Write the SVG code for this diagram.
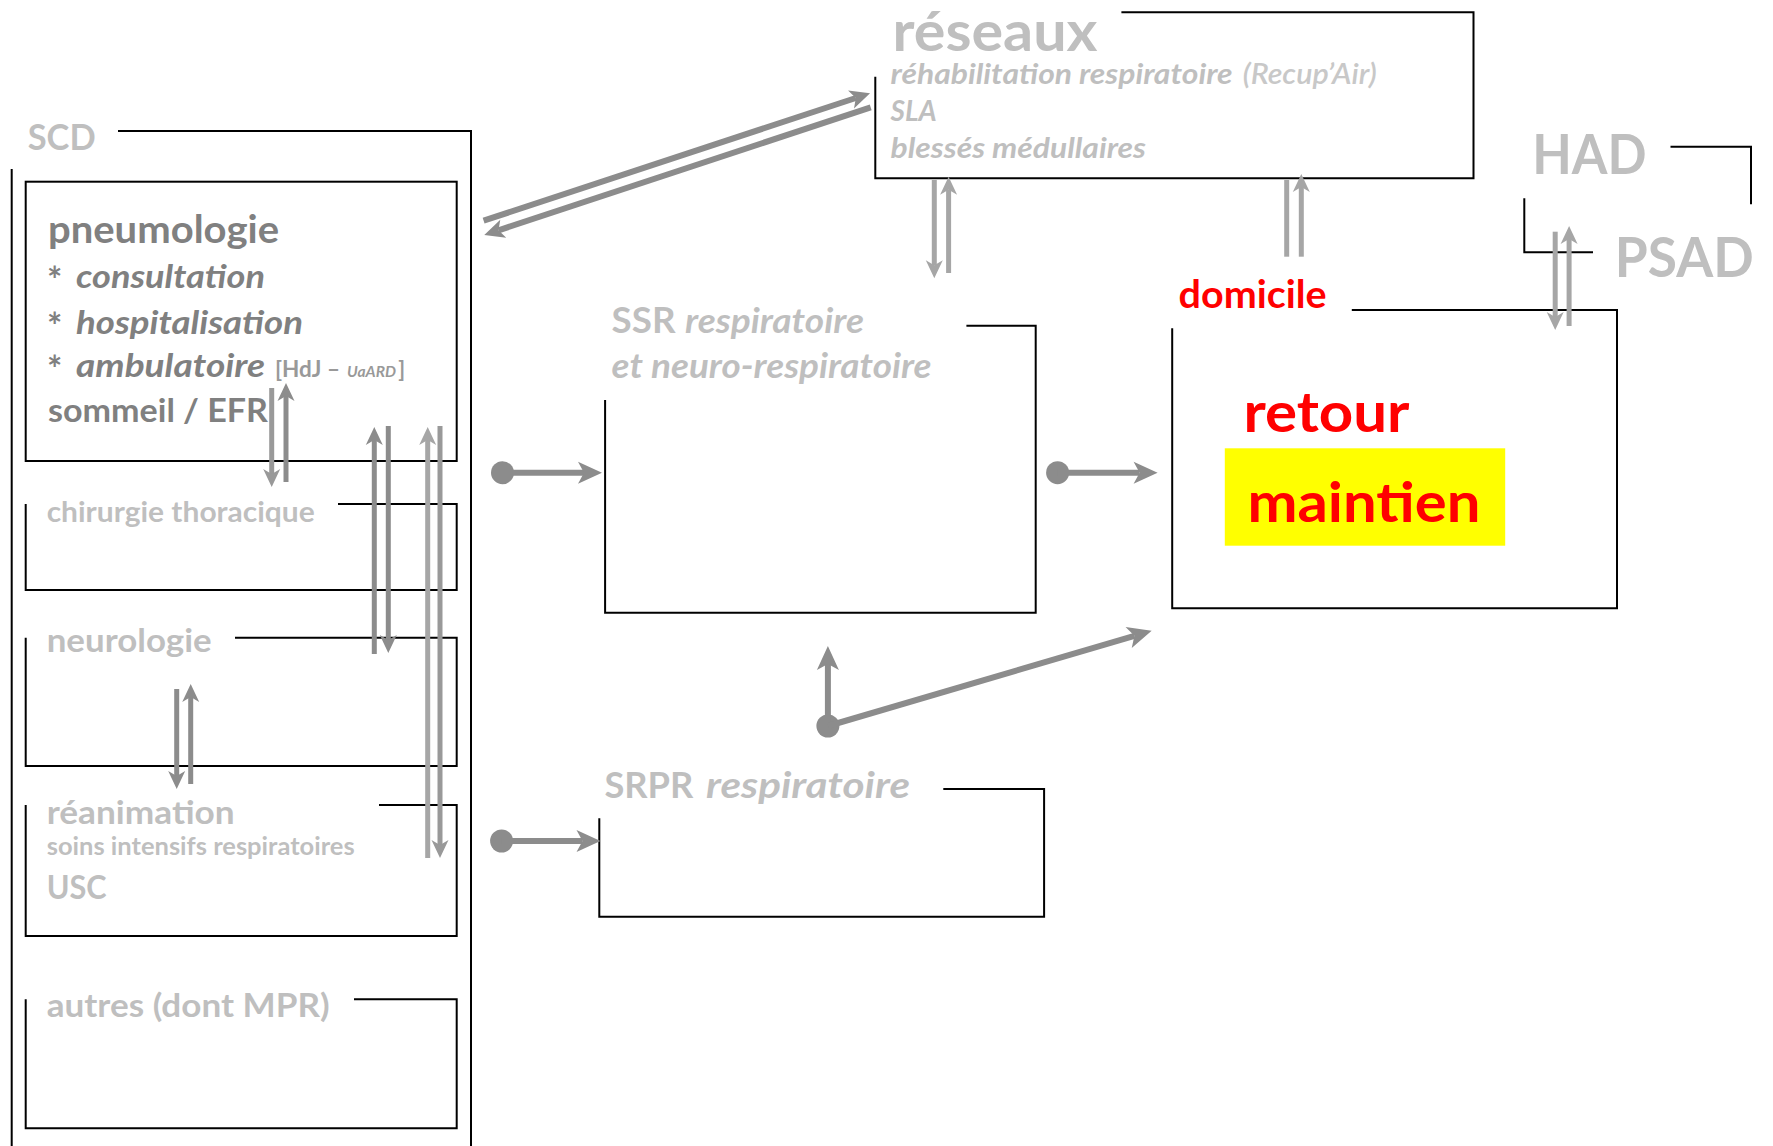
<svg xmlns="http://www.w3.org/2000/svg" width="1773" height="1146" viewBox="0 0 1773 1146">
<style>
.frame{fill:none;stroke:#000;stroke-width:2}
.t{font-family:Lato,"Open Sans","Liberation Sans",sans-serif;font-weight:bold}
.lg{fill:#bfbfbf}
.dg{fill:#808080}
.it{font-style:italic}
.red{fill:#ff0000}
.ast{font-size:36px}
.sd{stroke:#8c8c8c;stroke-width:5;fill:none}
.sm{stroke:#999999;stroke-width:5;fill:none}
.sl{stroke:#a6a6a6;stroke-width:5;fill:none}
.bd{stroke:#8c8c8c;stroke-width:6;fill:none}
.dot{fill:#8c8c8c}
</style>
<defs>
<marker id="hd" markerUnits="userSpaceOnUse" orient="auto" overflow="visible" refX="0" refY="0" markerWidth="1" markerHeight="1"><path d="M13,0 L-5,-8.5 L0,0 L-5,8.5 Z" fill="#8c8c8c"/></marker>
<marker id="hm" markerUnits="userSpaceOnUse" orient="auto" overflow="visible" refX="0" refY="0" markerWidth="1" markerHeight="1"><path d="M13,0 L-5,-8.5 L0,0 L-5,8.5 Z" fill="#999999"/></marker>
<marker id="hl" markerUnits="userSpaceOnUse" orient="auto" overflow="visible" refX="0" refY="0" markerWidth="1" markerHeight="1"><path d="M13,0 L-5,-8.5 L0,0 L-5,8.5 Z" fill="#a6a6a6"/></marker>
<marker id="hdm" markerUnits="userSpaceOnUse" orient="auto" overflow="visible" refX="0" refY="0" markerWidth="1" markerHeight="1"><path d="M15,0 L-5,-9.5 L0,0 L-5,9.5 Z" fill="#8c8c8c"/></marker>
<marker id="hb" markerUnits="userSpaceOnUse" orient="auto" overflow="visible" refX="0" refY="0" markerWidth="1" markerHeight="1"><path d="M18,0 L-6,-11 L0,0 L-6,11 Z" fill="#8c8c8c"/></marker>
</defs>

<g id="scd">
<path class="frame" d="M118,131 H471 V1146 M11.7,169 V1146"/>
<text class="t lg" x="27.7" y="150" font-size="37" textLength="68" lengthAdjust="spacingAndGlyphs">SCD</text>
</g>

<g id="pneumologie">
<rect class="frame" x="25.7" y="181.7" width="431" height="279.3"/>
<text class="t dg" x="48" y="243" font-size="37.5" textLength="231" lengthAdjust="spacingAndGlyphs">pneumologie</text>
<text class="t dg ast" x="47" y="293">*</text>
<text class="t dg it" x="76" y="288" font-size="33" textLength="189" lengthAdjust="spacingAndGlyphs">consultation</text>
<text class="t dg ast" x="47" y="339">*</text>
<text class="t dg it" x="76" y="334" font-size="33" textLength="227" lengthAdjust="spacingAndGlyphs">hospitalisation</text>
<text class="t dg ast" x="47" y="382">*</text>
<text class="t dg it" x="76" y="377" font-size="33" textLength="189" lengthAdjust="spacingAndGlyphs">ambulatoire</text>
<text class="t" fill="#999999" x="275" y="377" font-size="22" textLength="65" lengthAdjust="spacingAndGlyphs">[HdJ –</text>
<text class="t it" fill="#999999" x="347" y="377" font-size="15" textLength="49" lengthAdjust="spacingAndGlyphs">UaARD</text>
<text class="t" fill="#999999" x="398.3" y="377" font-size="22">]</text>
<text class="t dg" x="48" y="422" font-size="33" textLength="220" lengthAdjust="spacingAndGlyphs">sommeil / EFR</text>
</g>

<g id="chirurgie">
<path class="frame" d="M338,504 H456.7 V590 H25.7 V504"/>
<text class="t lg" x="46.7" y="522" font-size="28.5" textLength="268" lengthAdjust="spacingAndGlyphs">chirurgie thoracique</text>
</g>

<g id="neurologie">
<path class="frame" d="M235,637.7 H456.7 V766 H25.7 V637.7"/>
<text class="t lg" x="46.7" y="652" font-size="33" textLength="165" lengthAdjust="spacingAndGlyphs">neurologie</text>
</g>

<g id="reanimation">
<path class="frame" d="M379,805 H456.7 V936 H25.7 V805"/>
<text class="t lg" x="46.7" y="823.5" font-size="33" textLength="188" lengthAdjust="spacingAndGlyphs">réanimation</text>
<text class="t lg" x="46.7" y="855" font-size="24" textLength="308" lengthAdjust="spacingAndGlyphs">soins intensifs  respiratoires</text>
<text class="t lg" x="46.7" y="899" font-size="32.5" textLength="60" lengthAdjust="spacingAndGlyphs">USC</text>
</g>

<g id="autres">
<path class="frame" d="M354,999.3 H456.7 V1128.3 H25.7 V999.3"/>
<text class="t lg" x="46.7" y="1017" font-size="33" textLength="283" lengthAdjust="spacingAndGlyphs">autres (dont MPR)</text>
</g>

<g id="reseaux">
<path class="frame" d="M1121.4,12.3 H1473.5 V178.3 H875.3 V76.7"/>
<text class="t lg" x="892.5" y="51" font-size="55" textLength="205" lengthAdjust="spacingAndGlyphs">réseaux</text>
<text class="t lg it" x="890.6" y="84" font-size="28.5" textLength="342" lengthAdjust="spacingAndGlyphs">réhabilitation respiratoire</text>
<text class="t it" fill="#c8c8c8" x="1242.7" y="84" font-size="28.5" textLength="134" lengthAdjust="spacingAndGlyphs" style="font-weight:600">(Recup’Air)</text>
<text class="t lg it" x="890.6" y="120.7" font-size="28.5" textLength="46" lengthAdjust="spacingAndGlyphs">SLA</text>
<text class="t lg it" x="890.6" y="158.3" font-size="28.5" textLength="255.4" lengthAdjust="spacingAndGlyphs">blessés médullaires</text>
</g>

<g id="had">
<path class="frame" d="M1670.5,146.7 H1751 V204.3"/>
<text class="t lg" x="1532.2" y="174" font-size="55" textLength="114.4" lengthAdjust="spacingAndGlyphs">HAD</text>
</g>

<g id="psad">
<path class="frame" d="M1524.3,198.3 V252.3 H1593"/>
<text class="t lg" x="1614.8" y="276.7" font-size="55" textLength="139" lengthAdjust="spacingAndGlyphs">PSAD</text>
</g>

<g id="domicile">
<path class="frame" d="M1351.8,310 H1617 V608.3 H1172.2 V328.3"/>
<text class="t red" x="1178.6" y="308.3" font-size="37.5" textLength="148" lengthAdjust="spacingAndGlyphs">domicile</text>
<text class="t red" x="1243.4" y="431.7" font-size="56" textLength="166" lengthAdjust="spacingAndGlyphs">retour</text>
<rect x="1224.8" y="448.3" width="280.4" height="97.4" fill="#ffff00"/>
<text class="t red" x="1247.4" y="521.7" font-size="56" textLength="233" lengthAdjust="spacingAndGlyphs">maintien</text>
</g>

<g id="ssr">
<path class="frame" d="M966.4,325.7 H1035.7 V612.7 H605.1 V400"/>
<text class="t lg" x="611.6" y="333.3" font-size="36" textLength="64" lengthAdjust="spacingAndGlyphs">SSR</text>
<text class="t lg it" x="685" y="333.3" font-size="34" textLength="179" lengthAdjust="spacingAndGlyphs">respiratoire</text>
<text class="t lg it" x="611.6" y="378.3" font-size="34" textLength="320" lengthAdjust="spacingAndGlyphs">et neuro-respiratoire</text>
</g>

<g id="srpr">
<path class="frame" d="M943.3,789 H1044.1 V916.7 H599.3 V818.3"/>
<text class="t lg" x="604.4" y="798.3" font-size="37" textLength="89" lengthAdjust="spacingAndGlyphs">SRPR</text>
<text class="t lg it" x="706" y="798.3" font-size="37" textLength="204" lengthAdjust="spacingAndGlyphs">respiratoire</text>
</g>

<g id="connectors">
<line class="sm" x1="271.7" y1="388" x2="271.7" y2="474" marker-end="url(#hm)"/>
<line class="sd" x1="286" y1="482" x2="286" y2="396" marker-end="url(#hd)"/>
<line class="sd" x1="374.3" y1="654" x2="374.3" y2="440" marker-end="url(#hd)"/>
<line class="sd" x1="388.3" y1="426" x2="388.3" y2="640" marker-end="url(#hd)"/>
<line class="sl" x1="427.7" y1="858" x2="427.7" y2="440" marker-end="url(#hl)"/>
<line class="sm" x1="440" y1="426" x2="440" y2="845" marker-end="url(#hm)"/>
<line class="sd" x1="176.7" y1="689" x2="176.7" y2="776" marker-end="url(#hd)"/>
<line class="sd" x1="190.7" y1="784" x2="190.7" y2="697" marker-end="url(#hd)"/>
<line class="sl" x1="934.3" y1="180" x2="934.3" y2="265.3" marker-end="url(#hl)"/>
<line class="sl" x1="948.6" y1="273" x2="948.6" y2="189.7" marker-end="url(#hl)"/>
<line class="sl" x1="1286.7" y1="180" x2="1286.7" y2="256.7"/>
<line class="sl" x1="1301.3" y1="256.7" x2="1301.3" y2="187" marker-end="url(#hl)"/>
<line class="sl" x1="1555.2" y1="231.7" x2="1555.2" y2="317" marker-end="url(#hl)"/>
<line class="sl" x1="1569.1" y1="326" x2="1569.1" y2="239" marker-end="url(#hl)"/>
<line class="bd" x1="483.6" y1="220.7" x2="855.8" y2="98" marker-end="url(#hdm)"/>
<line class="bd" x1="870.7" y1="107.3" x2="498.5" y2="230.3" marker-end="url(#hdm)"/>
<circle class="dot" cx="502.5" cy="472.7" r="11.5"/>
<line class="bd" x1="502.5" y1="472.7" x2="584" y2="472.7" marker-end="url(#hb)"/>
<circle class="dot" cx="1057.6" cy="472.7" r="11.5"/>
<line class="bd" x1="1057.6" y1="472.7" x2="1139.6" y2="472.7" marker-end="url(#hb)"/>
<circle class="dot" cx="501.6" cy="841" r="11.5"/>
<line class="bd" x1="501.6" y1="841" x2="582.5" y2="841" marker-end="url(#hb)"/>
<circle class="dot" cx="827.9" cy="726" r="11.5"/>
<line class="bd" x1="827.9" y1="726" x2="827.9" y2="664" marker-end="url(#hb)"/>
<line class="bd" stroke-width="7" x1="827.9" y1="726" x2="1134.4" y2="635.8" marker-end="url(#hb)"/>
</g>
</svg>
